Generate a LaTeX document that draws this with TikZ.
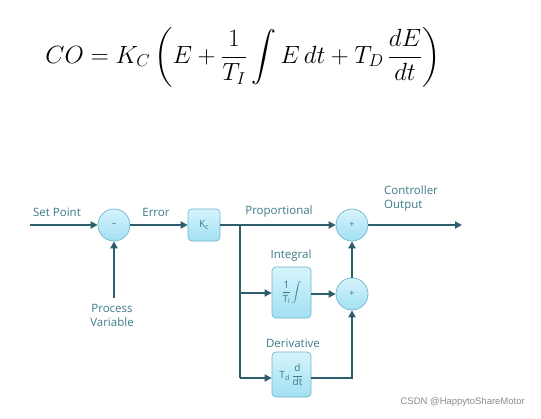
\documentclass[tikz,border=0pt]{standalone}
\usepackage{amsmath}
\usepackage{fontspec}
\setmainfont{Open Sans}
\newfontfamily\wmfont{Liberation Sans}
\usetikzlibrary{arrows.meta}
\definecolor{ln}{HTML}{2D5E6E}
\definecolor{tx}{HTML}{3D7A8A}
\definecolor{fillA}{HTML}{D6F4FC}
\definecolor{fillB}{HTML}{A2E0F3}
\definecolor{bord}{HTML}{6FB7CC}
\begin{document}
\begin{tikzpicture}[x=1pt,y=-1pt,
  sumnode/.style={circle, draw=bord, line width=0.7pt, top color=fillA, bottom color=fillB,
    minimum size=32pt, inner sep=0pt, text=tx, font=\fontsize{9}{9}\selectfont},
  blk/.style={rounded corners=4pt, draw=bord, line width=0.7pt, top color=fillA, bottom color=fillB,
    inner sep=0pt, text=tx, font=\fontsize{10}{11}\selectfont},
  lbl/.style={text=tx, font=\fontsize{11.5}{14}\selectfont, inner sep=0pt},
  flow/.style={draw=ln, line width=2.4pt, -{Triangle[length=7pt,width=7pt]}},
  plain/.style={draw=ln, line width=2.4pt}]
\useasboundingbox (0,0) rectangle (541,418);
\fill[white] (0,0) rectangle (541,418);

% equation
\node[inner sep=0pt, font=\fontsize{25.5}{30}\selectfont] (eq) at (243,57)
  {$\displaystyle CO = K_C\left(E + \frac{1}{T_I}\int E\,dt + T_D\,\frac{dE}{dt}\right)$};

% nodes
\node[sumnode] (sub) at (114,225) {--};
\node[blk, minimum width=32pt, minimum height=32pt] (kc) at (204,225) {K\textsubscript{c}};
\node[sumnode] (s1) at (352,225) {+};
\node[sumnode] (s2) at (352,294) {+};
\node[blk, minimum width=39pt, minimum height=51pt] (int) at (291.5,292.5)
  {$\displaystyle\frac{\text{1}}{\text{T}_\text{i}}\!\int$};
\node[blk, minimum width=39pt, minimum height=45pt] (der) at (291.5,374.5)
  {T\textsubscript{d}\,$\displaystyle\frac{\text{d}}{\text{dt}}$};

\coordinate (sp) at (30,225);
\coordinate (pv) at (114,298);
\coordinate (br) at (240,225);
\coordinate (bi) at (240,293);
\coordinate (bd) at (240,378);
\coordinate (out) at (462,225);

% connectors
\draw[flow] (sp) -- (sub);
\draw[flow] (pv) -- (sub);
\draw[flow] (sub) -- (kc);
\draw[flow] (kc) -- (s1);
\draw[plain] (br) -- (bd);
\draw[flow] (bi) -- (bi -| int.west);
\draw[flow] (bd) -- (bd -| der.west);
\draw[flow] (int.east |- s2) -- (s2);
\draw[flow] (der.east |- bd) -| (s2);
\draw[flow] (s2) -- (s1);
\draw[flow] (s1) -- (out);

% labels
\node[lbl] (l1) at (57,212) {Set Point};
\node[lbl] (l2) at (156,212) {Error};
\node[lbl] (l3) at (279,212) {Proportional};
\node[lbl, anchor=west, align=left] (l4) at (384,199) {Controller\\Output};
\node[lbl] (l5) at (291,256) {Integral};
\node[lbl] (l6) at (293,343) {Derivative};
\node[lbl, align=center] (l7) at (112,315) {Process\\Variable};

% watermark
\node[anchor=east, inner sep=0pt, text=black!45, font=\wmfont\fontsize{9.5}{10}\selectfont] (wm) at (525,402) {CSDN @HappytoShareMotor};
\end{tikzpicture}
\end{document}
